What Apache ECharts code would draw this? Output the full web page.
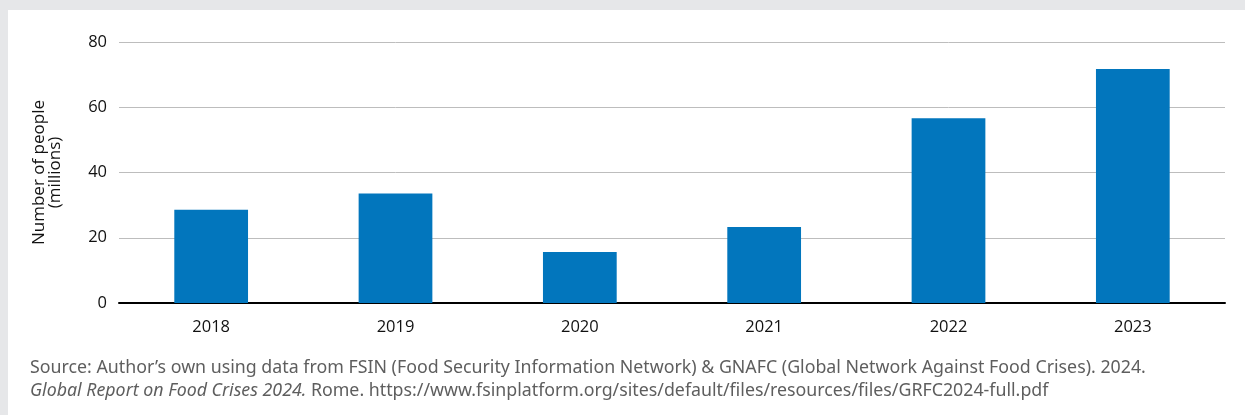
<!DOCTYPE html>
<html>
<head>
<meta charset="utf-8">
<script src="https://cdn.jsdelivr.net/npm/echarts@6/dist/echarts.min.js"></script>
<style>
html,body{margin:0;padding:0;background:#fff;}
#c{width:1245px;height:415px;}
</style>
</head>
<body>
<div id="c"></div>
<script>
const categories = ['2018', '2019', '2020', '2021', '2022', '2023'];
const values = [28.6, 33.6, 15.6, 23.3, 56.6, 71.7];
const yTicks = [0, 20, 40, 60, 80];
const yAxisTitle = 'Number of people\n(millions)';
const sourceLine1 = 'Source: Author\u2019s own using data from FSIN (Food Security Information Network) & GNAFC (Global Network Against Food Crises). 2024.';
const sourceLine2Italic = 'Global Report on Food Crises 2024.';
const sourceLine2Rest = ' Rome. https://www.fsinplatform.org/sites/default/files/resources/files/GRFC2024-full.pdf';

const chart = echarts.init(document.getElementById('c'), null, {renderer: 'canvas'});
const font = '"Open Sans", "Noto Sans", sans-serif';
const srcFont = '"Noto Sans", sans-serif';
chart.setOption({
  backgroundColor: '#ffffff',
  animation: false,
  grid: {left: 119, right: 20, top: 42, bottom: 112, containLabel: false},
  xAxis: {
    type: 'category',
    data: categories,
    axisLine: {show: true, lineStyle: {color: '#000', width: 2}},
    axisTick: {show: false},
    axisLabel: {color: '#111', fontSize: 16.5, fontFamily: font, margin: 16}
  },
  yAxis: {
    type: 'value',
    min: yTicks[0],
    max: yTicks[yTicks.length - 1],
    interval: yTicks[1] - yTicks[0],
    name: yAxisTitle,
    nameLocation: 'middle',
    nameRotate: 90,
    nameGap: 56,
    nameTextStyle: {color: '#111', fontSize: 17, fontFamily: font, lineHeight: 16},
    axisLine: {show: false},
    axisTick: {show: false},
    axisLabel: {color: '#111', fontSize: 16.5, fontFamily: font, margin: 12},
    splitLine: {lineStyle: {color: '#bdbdbd', width: 1}}
  },
  series: [{
    type: 'bar',
    data: values,
    barWidth: '40%',
    itemStyle: {color: '#0276bd'}
  }],
  graphic: [
    {type: 'rect', z: 100, shape: {x: 0, y: 0, width: 1245, height: 10}, style: {fill: '#e6e7e9'}},
    {type: 'rect', z: 100, shape: {x: 0, y: 0, width: 8, height: 415}, style: {fill: '#e6e7e9'}},
    {type: 'text', z: 100, left: 30, top: 359, style: {text: sourceLine1, fill: '#5e5e5e', fontSize: 17.8, fontFamily: srcFont}},
    {type: 'text', z: 100, left: 30, top: 382, style: {
      text: '{i|' + sourceLine2Italic + '}' + sourceLine2Rest,
      fill: '#5e5e5e', fontSize: 17.8, fontFamily: srcFont,
      rich: {i: {fontStyle: 'italic', fill: '#5e5e5e', fontSize: 17.8, fontFamily: srcFont}}
    }}
  ]
});
</script>
</body>
</html>
